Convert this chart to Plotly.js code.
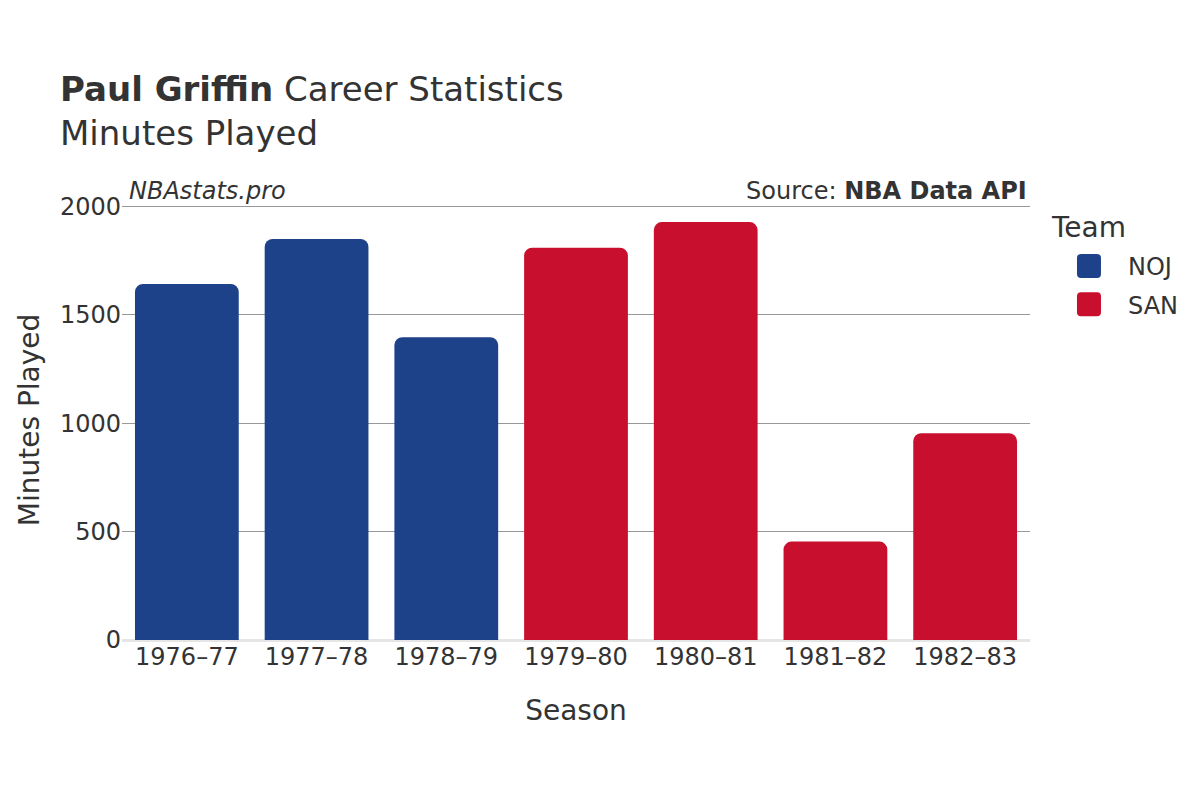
<!DOCTYPE html>
<html>
<head>
<meta charset="utf-8">
<script src="https://cdn.plot.ly/plotly-3.0.1.min.js"></script>
<style>
html,body{margin:0;padding:0;background:#fff;}
#chart{width:1200px;height:800px;}
</style>
</head>
<body>
<div id="chart"></div>
<script>
const nojSeasons = ["1976–77", "1977–78", "1978–79"];
const nojMinutes = [1643, 1850, 1397];
const sanSeasons = ["1979–80", "1980–81", "1981–82", "1982–83"];
const sanMinutes = [1810, 1928, 454, 954];
const allSeasons = ["1976–77", "1977–78", "1978–79", "1979–80", "1980–81", "1981–82", "1982–83"];
const yTicks = [0, 500, 1000, 1500, 2000];
const teams = ["NOJ", "SAN"];
const teamColors = ["#1d428a", "#c8102e"];

const font = "DejaVu Sans, sans-serif";
const traces = [
  {type: "bar", name: teams[0], legendgroup: teams[0], x: nojSeasons, y: nojMinutes, marker: {color: teamColors[0]}},
  {type: "bar", name: teams[1], legendgroup: teams[1], x: sanSeasons, y: sanMinutes, marker: {color: teamColors[1]}}
];
const layout = {
  width: 1200, height: 800,
  paper_bgcolor: "#fff", plot_bgcolor: "#fff",
  font: {family: font, color: "#333", size: 24},
  margin: {l: 122, r: 170, t: 200, b: 160},
  barmode: "relative",
  bargap: 0.2,
  barcornerradius: 8,
  title: {
    text: "<b>Paul Griffin</b> Career Statistics<br>Minutes Played",
    font: {family: font, size: 34, color: "#333"},
    x: 0.05, xanchor: "left", y: 0.874, yanchor: "top"
  },
  xaxis: {
    type: "category", categoryorder: "array", categoryarray: allSeasons,
    title: {text: "Season", font: {size: 28}, standoff: 30},
    tickfont: {size: 24}, showgrid: false, zeroline: false,
    showline: false, ticks: ""
  },
  yaxis: {
    title: {text: "Minutes Played", font: {size: 28}, standoff: 12},
    tickvals: yTicks, ticktext: yTicks.map(String),
    tickfont: {size: 24},
    range: [0, 2030],
    showgrid: true, gridcolor: "#999", gridwidth: 1,
    zeroline: true, zerolinecolor: "#e5e5e5", zerolinewidth: 3,
    ticks: "", showline: false
  },
  legend: {
    font: {size: 24},
    x: 1.022, xanchor: "left", y: 0.9, yanchor: "top",
    tracegroupgap: 4,
    itemwidth: 68
  },
  annotations: [
    {text: "<i>NBAstats.pro</i>", xref: "paper", yref: "paper", x: 0.005, y: 1.0, xanchor: "left", yanchor: "bottom", yshift: -7, showarrow: false, font: {size: 24, color: "#333"}},
    {text: "Source: <b>NBA Data API</b>", xref: "paper", yref: "paper", x: 0.999, y: 1.0, xanchor: "right", yanchor: "bottom", yshift: -7, showarrow: false, font: {size: 24, color: "#333"}},
    {text: "Team", xref: "paper", yref: "paper", x: 1.021, y: 0.9386, xanchor: "left", yanchor: "middle", showarrow: false, font: {size: 28, color: "#333"}}
  ]
};
Plotly.newPlot("chart", traces, layout, {displayModeBar: false, staticPlot: true}).then(function (gd) {
  // draw the legend swatches as larger rounded squares
  gd.querySelectorAll(".legend .legendpoints path").forEach(function (p) {
    p.setAttribute("d", "M-8,-12H8A4,4 0 0 1 12,-8V8A4,4 0 0 1 8,12H-8A4,4 0 0 1 -12,8V-8A4,4 0 0 1 -8,-12Z");
    p.style.strokeWidth = "0";
  });
});
</script>
</body>
</html>
